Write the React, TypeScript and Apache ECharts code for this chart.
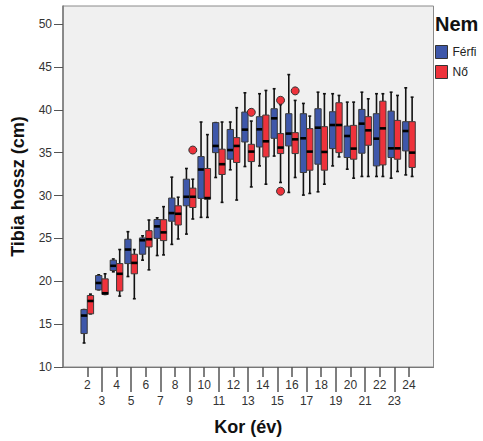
import React, { useEffect, useRef } from "react";
import * as echarts from "echarts";

// Age categories (years)
const ages = [2, 3, 4, 5, 6, 7, 8, 9, 10, 11, 12, 13, 14, 15, 16, 17, 18, 19, 20, 21, 22, 23, 24];

// Box statistics per age: [min, Q1, median, Q3, max]
const maleStats = [
  [12.8, 13.9, 16.0, 16.7, 16.7],
  [19.0, 19.0, 19.8, 20.67, 20.75],
  [21.1, 21.25, 21.8, 22.46, 22.6],
  [20.55, 22.06, 23.7, 24.9, 25.78],
  [22.46, 23.15, 24.78, 25.05, 25.3],
  [23.0, 25.0, 26.4, 27.2, 27.4],
  [24.3, 27.0, 27.95, 29.7, 32.14],
  [25.5, 28.8, 29.85, 31.9, 33.15],
  [27.45, 29.66, 33.03, 34.54, 38.57],
  [32.1, 35.0, 35.78, 38.5, 38.5],
  [33.0, 34.23, 35.3, 37.7, 38.57],
  [33.38, 36.24, 37.68, 39.73, 41.98],
  [33.45, 35.66, 37.72, 39.19, 41.87],
  [34.6, 36.67, 39.0, 40.12, 42.45],
  [30.36, 35.78, 37.22, 39.54, 44.1],
  [30.05, 32.68, 36.67, 39.54, 40.74],
  [30.43, 33.65, 37.91, 40.12, 42.05],
  [33.45, 35.47, 38.22, 39.77, 41.87],
  [33.07, 34.43, 36.94, 38.1, 40.89],
  [32.22, 34.93, 38.38, 40.04, 42.05],
  [32.22, 33.45, 36.63, 39.54, 41.87],
  [32.02, 34.43, 35.5, 39.84, 42.05],
  [32.4, 35.2, 37.52, 38.61, 42.56],
];

const femaleStats = [
  [16.2, 16.2, 17.7, 18.34, 18.5],
  [18.46, 18.46, 18.6, 20.28, 20.87],
  [18.27, 18.86, 20.87, 22.06, 23.7],
  [17.96, 20.87, 22.14, 23.15, 23.7],
  [21.33, 24.0, 24.9, 25.9, 27.14],
  [23.07, 24.74, 25.7, 27.18, 28.7],
  [24.93, 26.56, 27.87, 28.8, 29.8],
  [27.26, 28.6, 29.85, 30.86, 31.9],
  [27.45, 29.58, 29.7, 33.15, 37.1],
  [29.2, 32.45, 33.65, 35.4, 38.57],
  [29.47, 33.85, 35.78, 36.75, 40.24],
  [31.0, 33.96, 35.12, 35.97, 38.68],
  [31.32, 34.5, 36.32, 39.38, 42.25],
  [31.52, 34.89, 35.59, 37.22, 40.6],
  [32.1, 34.89, 36.55, 37.33, 41.09],
  [30.24, 32.95, 35.12, 37.8, 39.26],
  [31.32, 32.95, 35.08, 38.03, 41.87],
  [34.5, 35.0, 38.22, 40.82, 41.67],
  [32.02, 34.23, 35.47, 38.18, 40.89],
  [32.22, 35.86, 37.6, 39.19, 41.28],
  [32.22, 33.57, 37.83, 41.0, 41.87],
  [32.8, 34.23, 35.5, 38.76, 41.67],
  [32.22, 33.27, 35.0, 38.61, 41.47],
];

// Outliers (female): [age, value]
const femaleOutliers = [
  [9, 35.3],
  [13, 39.7],
  [15, 41.1],
  [15, 30.5],
  [16, 42.2],
];

const yTicks = [10, 15, 20, 25, 30, 35, 40, 45, 50];
const evenAgeTicks = [2, 4, 6, 8, 10, 12, 14, 16, 18, 20, 22, 24];
const oddAgeTicks = [3, 5, 7, 9, 11, 13, 15, 17, 19, 21, 23];

const BLUE = "#3e57aa";
const RED = "#ee323b";
const FONT = "Liberation Sans, Arial, sans-serif";

function makeRender(side: number, color: string) {
  return (params: any, api: any) => {
    const x = api.value(0);
    const unit = api.size([1, 0])[0];
    const off = side * unit * 0.218;
    const half = unit * 0.215;
    const cap = unit * 0.1;
    const pMin = api.coord([x, api.value(1)]);
    const pQ1 = api.coord([x, api.value(2)]);
    const pMed = api.coord([x, api.value(3)]);
    const pQ3 = api.coord([x, api.value(4)]);
    const pMax = api.coord([x, api.value(5)]);
    const cx = pMin[0] + off;
    const wStyle = { stroke: "#111", lineWidth: 1.6 };
    return {
      type: "group",
      children: [
        { type: "line", shape: { x1: cx, y1: pMax[1], x2: cx, y2: pQ3[1] }, style: wStyle },
        { type: "line", shape: { x1: cx, y1: pQ1[1], x2: cx, y2: pMin[1] }, style: wStyle },
        { type: "line", shape: { x1: cx - cap, y1: pMax[1], x2: cx + cap, y2: pMax[1] }, style: wStyle },
        { type: "line", shape: { x1: cx - cap, y1: pMin[1], x2: cx + cap, y2: pMin[1] }, style: wStyle },
        {
          type: "rect",
          shape: { x: cx - half, y: pQ3[1], width: half * 2, height: pQ1[1] - pQ3[1] },
          style: { fill: color, stroke: "#3a3a3a", lineWidth: 1 },
        },
        {
          type: "line",
          shape: { x1: cx - half, y1: pMed[1], x2: cx + half, y2: pMed[1] },
          style: { stroke: "#000", lineWidth: 2.6 },
        },
      ],
    };
  };
}

export default function App() {
  const ref = useRef<HTMLDivElement>(null);
  useEffect(() => {
    if (!ref.current) return;
    const chart = echarts.init(ref.current, undefined, { renderer: "svg" });
    const xCommon = {
      type: "value",
      min: 0.34,
      max: 25.68,
      position: "bottom",
      splitLine: { show: false },
    };
    chart.setOption({
      animation: false,
      textStyle: { fontFamily: FONT },
      title: {
        text: "Nem",
        left: 435,
        top: 14,
        padding: 0,
        textStyle: { fontFamily: FONT, fontWeight: "bold", fontSize: 20, color: "#111" },
      },
      legend: {
        orient: "vertical",
        left: 435,
        top: 45,
        padding: 0,
        itemWidth: 12,
        itemHeight: 13,
        itemGap: 6,
        selectedMode: false,
        textStyle: { fontFamily: FONT, fontSize: 12, color: "#222" },
        data: [
          { name: "Férfi", icon: "rect", itemStyle: { color: BLUE, borderColor: "#333", borderWidth: 1 } },
          { name: "Nő", icon: "rect", itemStyle: { color: RED, borderColor: "#333", borderWidth: 1 } },
        ],
      },
      grid: {
        left: 63,
        top: 6,
        width: 370.5,
        height: 362.5,
        show: true,
        backgroundColor: "#f0f0f0",
        borderColor: "#8a8a8a",
        borderWidth: 1,
      },
      xAxis: [
        {
          ...xCommon,
          name: "Kor (év)",
          nameLocation: "middle",
          nameGap: 51,
          nameTextStyle: { fontFamily: FONT, fontWeight: "bold", fontSize: 18, color: "#111" },
          axisLine: { show: true, lineStyle: { color: "#777", width: 1 } },
          axisTick: { show: true, length: 10, customValues: evenAgeTicks, lineStyle: { color: "#555", width: 1.5 } },
          axisLabel: { customValues: evenAgeTicks, margin: 12, fontSize: 12, color: "#333", fontFamily: FONT },
        },
        {
          ...xCommon,
          axisLine: { show: false },
          axisTick: { show: true, length: 25, customValues: oddAgeTicks, lineStyle: { color: "#555", width: 1.5 } },
          axisLabel: { customValues: oddAgeTicks, margin: 28, fontSize: 12, color: "#333", fontFamily: FONT },
        },
      ],
      yAxis: {
        type: "value",
        min: 10,
        max: 52.1,
        name: "Tibia hossz (cm)",
        nameLocation: "middle",
        nameGap: 36,
        nameTextStyle: { fontFamily: FONT, fontWeight: "bold", fontSize: 18, color: "#111" },
        splitLine: { show: false },
        axisLine: { show: true, lineStyle: { color: "#777", width: 1.5 } },
        axisTick: { show: true, length: 9, customValues: yTicks, lineStyle: { color: "#555", width: 1 } },
        axisLabel: { customValues: yTicks, margin: 11, fontSize: 12, color: "#333", fontFamily: FONT },
      },
      series: [
        {
          name: "Férfi",
          type: "custom",
          xAxisIndex: 0,
          itemStyle: { color: BLUE },
          encode: { x: 0, y: [1, 2, 3, 4, 5] },
          renderItem: makeRender(-1, BLUE),
          data: ages.map((a, i) => [a, ...maleStats[i]]),
        },
        {
          name: "Nő",
          type: "custom",
          xAxisIndex: 0,
          itemStyle: { color: RED },
          encode: { x: 0, y: [1, 2, 3, 4, 5] },
          renderItem: makeRender(1, RED),
          data: ages.map((a, i) => [a, ...femaleStats[i]]),
        },
        {
          name: "Nő kiugró",
          type: "scatter",
          xAxisIndex: 0,
          symbol: "circle",
          symbolSize: 8,
          symbolOffset: [3.2, 0],
          itemStyle: { color: RED, opacity: 1, borderColor: "#333", borderWidth: 1 },
          data: femaleOutliers,
        },
      ],
    });
    return () => chart.dispose();
  }, []);
  return (
    <div
      ref={ref}
      style={{ position: "fixed", left: 0, top: 0, width: 483, height: 441, background: "#fff" }}
    />
  );
}
